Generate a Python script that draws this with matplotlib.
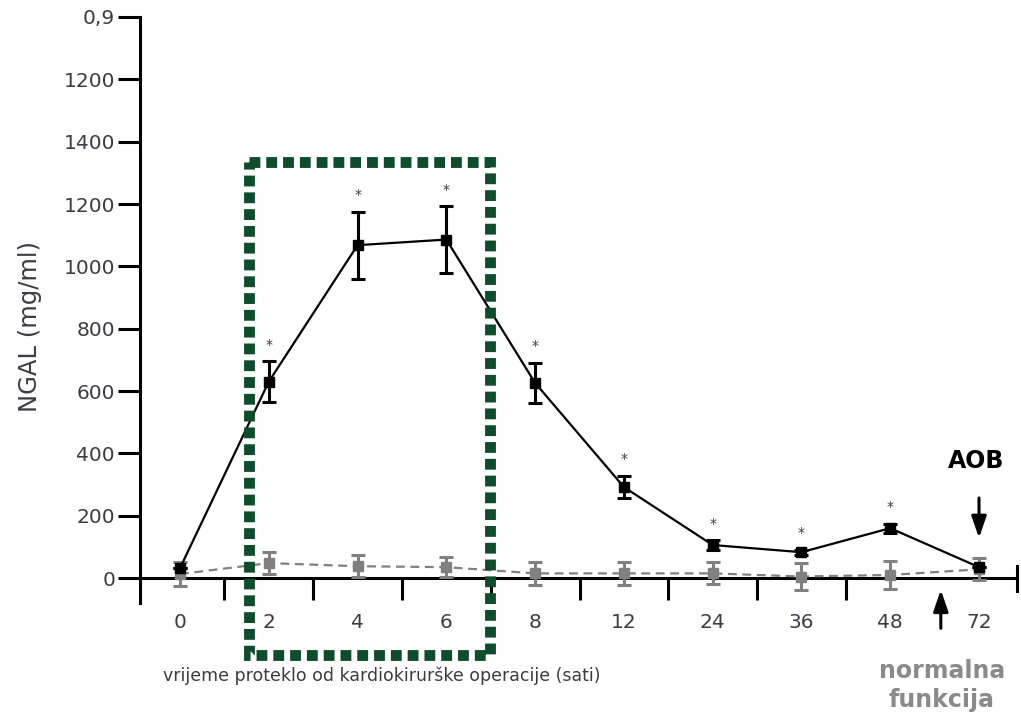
import matplotlib
matplotlib.use('Agg')
import matplotlib.pyplot as plt
import numpy as np

# hours after cardiac surgery (categorical axis)
hours = ['0', '2', '4', '6', '8', '12', '24', '36', '48', '72']

# AOB group (black, solid)
aob_mean = [32, 630, 1068, 1086, 626, 292, 106, 83, 160, 35]
aob_err = [0, 65, 108, 107, 65, 35, 15, 8, 15, 0]
aob_star = [False, True, True, True, True, True, True, True, True, False]

# normal renal function group (grey, dashed)
ctrl_mean = [13, 48, 38, 35, 15, 15, 15, 5, 10, 28]
ctrl_err = [40, 35, 36, 33, 38, 38, 35, 42, 45, 35]

y_ticks = [0, 200, 400, 600, 800, 1000, 1200, 1400, 1600, 1800]
y_labels = ['0', '200', '400', '600', '800', '1000', '1200', '1400', '1200', '0,9']

tick_color = '#3c3c46'
green = '#0e4d2c'
grey = '#808080'

fig = plt.figure(figsize=(10.21, 7.2), dpi=100)
ax = fig.add_axes([140 / 1021, 1 - 603 / 720, 877 / 1021, 586 / 720])

x = np.arange(len(hours))

ax.errorbar(x, ctrl_mean, yerr=ctrl_err, color=grey, ls=(0, (4, 2.5)), lw=1.6,
            marker='s', ms=7, elinewidth=2.2, capsize=5, capthick=2.2, zorder=3)
ax.errorbar(x, aob_mean, yerr=aob_err, color='black', lw=1.6,
            marker='s', ms=7, elinewidth=2.2, capsize=5, capthick=2.2, zorder=4)

# significance stars
for xi, m, e, s in zip(x, aob_mean, aob_err, aob_star):
    if s:
        ax.annotate('*', (xi, m + e), xytext=(0, 12), textcoords='offset points',
                    ha='center', va='center', fontsize=10, color=tick_color)

# dotted green frame around 2-6 h
frame_x = [0.78, 3.49, 3.49, 0.78, 0.78]
frame_y = [1335, 1335, -247, -247, 1335]
ax.plot(frame_x, frame_y, color=green, lw=7.8, ls=(0, (1.0, 0.55)),
        solid_capstyle='butt', dash_capstyle='butt', dash_joinstyle='miter',
        clip_on=False, zorder=6)

ax.set_xlim(-0.4506, 9.428)
ax.set_ylim(-80, 1800)

for s in ['top', 'right']:
    ax.spines[s].set_visible(False)
ax.spines['bottom'].set_position(('data', 0))
ax.spines['left'].set_linewidth(2.2)
ax.spines['bottom'].set_linewidth(2.2)

ax.set_yticks(y_ticks)
ax.set_yticklabels(y_labels)
ax.tick_params(axis='y', length=16, width=2.2, pad=2, labelsize=14.5, labelcolor=tick_color)

ax.set_xticks(x)
ax.set_xticklabels(hours)
ax.set_xticks(np.arange(0.5, 8, 1), minor=True)
ax.tick_params(axis='x', which='major', length=0, pad=25, labelsize=14.5, labelcolor=tick_color)
ax.tick_params(axis='x', which='minor', length=16, width=2.2, direction='out')

# end tick on the right of the x axis
ax.plot([9.428, 9.428], [-40, 40], color='black', lw=2.2, clip_on=False)

# arrows + annotation texts
arrow = dict(arrowstyle='-|>,head_length=1.3,head_width=0.45', color='black', lw=2.2)
ax.annotate('', xy=(9.0, 120), xytext=(9.0, 266), annotation_clip=False, arrowprops=arrow)
ax.annotate('', xy=(8.57, -29), xytext=(8.57, -170), annotation_clip=False, arrowprops=arrow)
ax.text(8.97, 375, 'AOB', ha='center', va='center', fontsize=17, fontweight='bold', clip_on=False)
ax.text(8.58, -345, 'normalna\nfunkcija', ha='center', va='center', fontsize=17,
        fontweight='bold', color='#8a8a8a', linespacing=1.25, clip_on=False)

fig.text(382 / 1021, 1 - 676 / 720, 'vrijeme proteklo od kardiokirurške operacije (sati)',
         ha='center', va='center', fontsize=12.5, color=tick_color)
fig.text(30 / 1021, 1 - 327 / 720, 'NGAL (mg/ml)', ha='center', va='center',
         rotation=90, fontsize=17.5, color=tick_color)

fig.savefig('out.png', dpi=100)
